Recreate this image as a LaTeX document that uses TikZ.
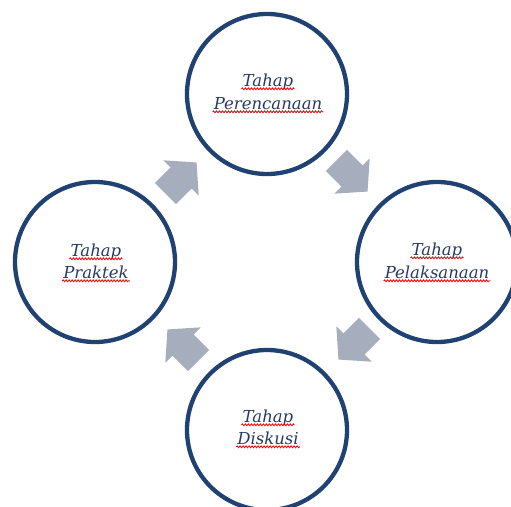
\documentclass[tikz,border=0pt]{standalone}
\usepackage{fontspec}
\setmainfont{DejaVu Serif}
\usetikzlibrary{decorations.pathmorphing}
\definecolor{ringblue}{RGB}{31,66,115}
\definecolor{txtblue}{RGB}{36,58,100}
\definecolor{arrowgray}{RGB}{166,173,189}
\definecolor{wavered}{RGB}{228,20,20}
\tikzset{
  ring/.style={circle, draw=ringblue, line width=4.3pt, minimum size=160pt, inner sep=0pt},
  lbl/.style={font=\itshape\fontsize{16.5}{20}\selectfont, text=txtblue, inner sep=0pt, anchor=base},
  wavy/.style={draw=wavered, line width=0.9pt, decorate, decoration={snake, segment length=3pt, amplitude=0.9pt}},
  blk/.pic={\fill[arrowgray] (-22,-15) -- (0,-15) -- (0,-25) -- (22,0) -- (0,25) -- (0,15) -- (-22,15) -- cycle;}
}
\newcommand\wul[1]{\draw[wavy] ([xshift=-1pt,yshift=-2.8pt]#1.base west) -- ([xshift=1pt,yshift=-2.8pt]#1.base east);}
\begin{document}
\begin{tikzpicture}[x=1pt,y=-1pt]
\useasboundingbox (0,0) rectangle (511,506);
\clip (0,0) rectangle (511,506);
% circles
\node[ring] (top) at (267,94) {};
\node[ring] (right) at (437,262) {};
\node[ring] (bottom) at (267,430) {};
\node[ring] (left) at (95,262) {};
% labels
\node[lbl] (t1) at (268,86) {Tahap};
\node[lbl] (t2) at (268,109) {Perencanaan};
\node[lbl] (r1) at (437,255) {Tahap};
\node[lbl] (r2) at (437,278) {Pelaksanaan};
\node[lbl] (b1) at (268,422) {Tahap};
\node[lbl] (b2) at (268,444) {Diskusi};
\node[lbl] (l1) at (96,256) {Tahap};
\node[lbl] (l2) at (96,278) {Praktek};
\wul{t1}\wul{t2}\wul{r1}\wul{r2}\wul{b1}\wul{b2}\wul{l1}\wul{l2}
% block arrows
\pic[rotate=45] at (181,178) {blk};
\pic[rotate=-45] at (352,176) {blk};
\pic[rotate=-135] at (354,344) {blk};
\pic[rotate=135] at (183,345) {blk};
\end{tikzpicture}
\end{document}
